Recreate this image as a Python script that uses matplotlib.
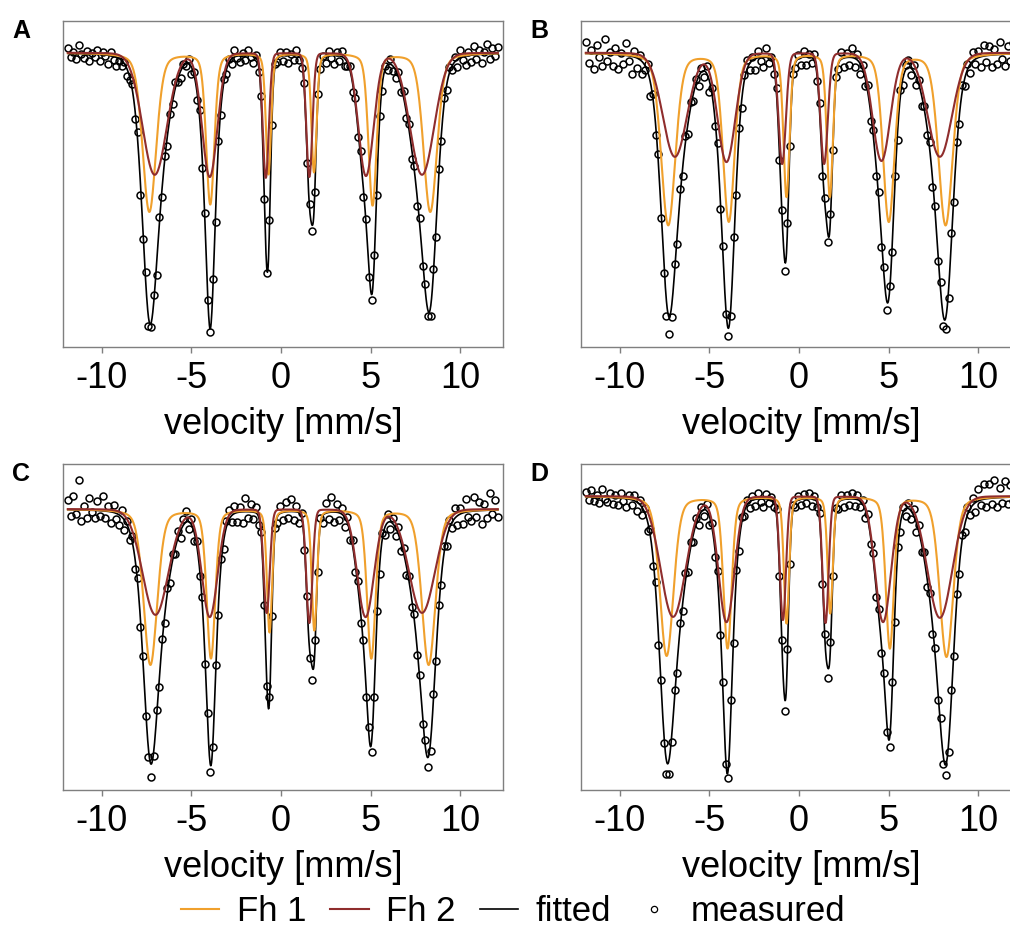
import numpy as np
import matplotlib
matplotlib.use("Agg")
import matplotlib.pyplot as plt
from matplotlib.lines import Line2D

plt.rcParams['font.family'] = ['Liberation Sans', 'DejaVu Sans']
plt.rcParams['axes.unicode_minus'] = False

# sextet lines of the two ferrihydrite components:
# position [mm/s], depth [a.u.] and half width [mm/s] of lines 1..6
fh1_pos_A = [-7.35, -3.95, -0.70, 1.84, 5.11, 8.33]
fh1_dep_A = [159, 151, 121, 119, 152, 159]
fh1_wid_A = [0.45, 0.27, 0.17, 0.17, 0.27, 0.45]
fh2_pos_A = [-7.05, -3.98, -0.85, 1.58, 4.74, 7.87]
fh2_dep_A = [122, 124, 125, 124, 123, 122]
fh2_wid_A = [0.80, 0.50, 0.20, 0.20, 0.50, 0.80]

fh1_pos_B = [-7.30, -3.92, -0.70, 1.72, 5.01, 8.18]
fh1_dep_B = [172, 168, 143, 143, 168, 172]
fh1_wid_B = [0.47, 0.38, 0.20, 0.20, 0.38, 0.47]
fh2_pos_B = [-6.93, -4.05, -0.94, 1.40, 4.60, 7.86]
fh2_dep_B = [104, 109, 111, 111, 108, 104]
fh2_wid_B = [0.80, 0.58, 0.24, 0.24, 0.58, 0.80]

fh1_pos_C = [-7.29, -3.91, -0.64, 1.86, 5.04, 8.24]
fh1_dep_C = [156, 149, 123, 121, 149, 156]
fh1_wid_C = [0.45, 0.28, 0.17, 0.17, 0.28, 0.45]
fh2_pos_C = [-7.01, -3.98, -0.80, 1.58, 4.72, 7.87]
fh2_dep_C = [106, 108, 104, 114, 108, 104]
fh2_wid_C = [0.85, 0.52, 0.20, 0.20, 0.55, 0.85]

fh1_pos_D = [-7.39, -3.99, -0.70, 1.74, 5.07, 8.23]
fh1_dep_D = [160, 152, 127, 117, 152, 161]
fh1_wid_D = [0.45, 0.27, 0.17, 0.17, 0.27, 0.45]
fh2_pos_D = [-7.03, -4.05, -0.90, 1.48, 4.69, 7.86]
fh2_dep_D = [121, 126, 124, 127, 126, 122]
fh2_wid_D = [0.82, 0.52, 0.20, 0.20, 0.52, 0.82]

# measured absorption [a.u.] at the channel velocities
vel = np.round(np.linspace(-11.9, 12.1, 161), 2)
meas_A = [-5, 4, -1, 6, -8, 1, 5, -2, 8, 0,
          4, -3, 8, -1, 3, 11, -1, 7, 13, 8,
          13, 9, 23, 27, 31, 66, 79, 142, 186, 219,
          273, 274, 242, 222, 164, 144, 103, 93, 61, 51,
          29, 29, 25, 11, 13, 6, 21, 19, 47, 57,
          115, 160, 247, 279, 226, 169, 88, 62, 26, 21,
          6, 11, -3, 5, 9, 0, 7, -3, 4, 10,
          2, 19, 43, 146, 220, 167, 72, 11, 9, -1,
          8, -1, 10, 1, 7, -3, 7, 15, 30, 110,
          151, 178, 139, 41, 16, 3, 10, -2, 5, 11,
          -1, 8, -2, 13, 13, 13, 39, 45, 84, 98,
          144, 166, 224, 247, 202, 142, 63, 38, 13, 17,
          6, 18, 25, 19, 39, 38, 65, 71, 106, 113,
          153, 165, 213, 231, 263, 263, 216, 184, 116, 88,
          45, 37, 14, 17, 4, 14, -3, 7, 12, -1,
          9, -7, 6, -3, 10, -1, -9, 6, -5, 3, -6]
meas_B = [-11, 10, -3, 16, -8, 4, 13, -14, 8, -1,
          13, -5, 16, 0, 11, -10, 8, 21, -2, 15,
          2, 21, 17, 11, 43, 41, 82, 101, 165, 220,
          263, 281, 264, 211, 191, 136, 123, 83, 81, 49,
          48, 26, 33, 15, 24, 13, 39, 35, 73, 90,
          156, 193, 261, 283, 263, 184, 142, 75, 55, 22,
          7, 17, 4, 17, -2, 8, 14, -5, 10, 4,
          21, 35, 107, 157, 218, 170, 93, 21, 15, 2,
          12, -2, 12, 1, 10, 1, 28, 50, 123, 145,
          189, 161, 97, 24, 16, -1, 14, 0, 12, -5,
          14, 1, 21, 12, 33, 32, 68, 77, 123, 139,
          194, 214, 257, 233, 199, 123, 87, 37, 32, 12,
          7, 22, 12, 32, 27, 53, 53, 82, 89, 134,
          153, 208, 229, 273, 276, 245, 180, 149, 89, 71,
          32, 33, 11, 20, -1, 11, -2, 14, -8, 9,
          -7, 14, -4, 11, -11, 6, 13, -7, 8, -10, 6]
meas_C = [-9, 7, -13, 5, -29, 12, -3, 9, -11, 3,
          9, -8, 7, -13, 9, -3, 14, -4, 10, 16,
          1, 21, 12, 31, 27, 60, 69, 118, 147, 208,
          249, 269, 248, 202, 178, 130, 114, 79, 74, 45,
          45, 22, 29, 10, 2, 20, 10, 32, 32, 67,
          88, 155, 205, 264, 239, 156, 106, 50, 40, 12,
          1, 13, -3, 13, -2, 14, -11, 9, -5, 10,
          -2, 16, 23, 96, 177, 188, 107, 19, 14, -3,
          11, -7, 9, -10, 11, -3, 14, 4, 41, 87,
          149, 171, 131, 63, 9, 14, -6, 10, -12, 13,
          -5, 11, -1, 18, 8, 31, 31, 63, 72, 114,
          131, 188, 219, 244, 188, 102, 65, 24, 26, 5,
          20, 9, 27, 18, 42, 39, 66, 67, 98, 105,
          146, 166, 216, 232, 259, 243, 185, 152, 96, 76,
          37, 37, 11, 19, -1, 16, -1, 15, -10, 8,
          12, -12, 8, -7, 15, -5, 9, -16, 5, -9, 8]
meas_D = [-4, 4, -6, 5, -1, 7, -7, 3, 6, -3,
          8, -1, 9, -3, 5, 11, -1, 9, -1, 15,
          4, 19, 12, 35, 33, 70, 86, 149, 184, 248,
          279, 279, 247, 194, 177, 127, 115, 77, 76, 46,
          46, 22, 29, 11, 20, 8, 29, 27, 61, 75,
          139, 186, 269, 283, 205, 147, 74, 55, 21, 20,
          4, 12, 0, 10, -3, 6, 11, -2, 7, 1,
          11, 13, 80, 144, 216, 153, 68, 9, 11, 0,
          9, -2, 7, -3, 10, 0, 11, 17, 88, 138,
          182, 146, 80, 12, 13, -1, 11, -1, 9, -3,
          10, -1, 11, 4, 22, 18, 48, 57, 101, 113,
          157, 177, 237, 252, 186, 126, 51, 36, 11, 20,
          7, 23, 13, 36, 29, 56, 56, 91, 97, 138,
          152, 205, 223, 269, 280, 257, 194, 160, 98, 78,
          39, 36, 11, 19, 2, 16, -7, 9, -12, 11,
          -12, 8, -16, 11, -8, 7, -15, 8, -11, 5, -8]

y_top = {'A': 31.6, 'B': 31.6, 'C': 45.0, 'D': 32.0}
y_bot = {'A': -294.4, 'B': -294.4, 'C': -281.7, 'D': -294.7}

ETA1 = 0.30  # lorentzian share of the line shape
ETA2 = 0.05


def sextet(v, pos, dep, wid, eta):
    out = np.zeros_like(v)
    for p, d, w in zip(pos, dep, wid):
        u = (v - p) / w
        out += d * (eta / (1 + u ** 2) + (1 - eta) * np.exp(-np.log(2) * u ** 2))
    return out


panels = {
    'A': (fh1_pos_A, fh1_dep_A, fh1_wid_A, fh2_pos_A, fh2_dep_A, fh2_wid_A, meas_A),
    'B': (fh1_pos_B, fh1_dep_B, fh1_wid_B, fh2_pos_B, fh2_dep_B, fh2_wid_B, meas_B),
    'C': (fh1_pos_C, fh1_dep_C, fh1_wid_C, fh2_pos_C, fh2_dep_C, fh2_wid_C, meas_C),
    'D': (fh1_pos_D, fh1_dep_D, fh1_wid_D, fh2_pos_D, fh2_dep_D, fh2_wid_D, meas_D),
}

ORANGE = '#F0A02C'
BROWN = '#8F2D2D'
GREY = '#7F7F7F'

fig = plt.figure(figsize=(10.10, 9.32), dpi=100)
W, H = 1010, 932
# panel corners in pixels (right column runs past the image edge, as in the original)
boxes = {'A': (63, 21), 'B': (581, 21), 'C': (63, 464), 'D': (581, 464)}

v = np.linspace(-11.9, 12.1, 1201)
for key, (p1, d1, w1, p2, d2, w2, meas) in panels.items():
    x0, y0 = boxes[key]
    ax = fig.add_axes([x0 / W, 1 - (y0 + 326) / H, 440 / W, 326 / H])
    s1 = sextet(v, p1, d1, w1, ETA1)
    s2 = sextet(v, p2, d2, w2, ETA2)
    ax.plot(vel, -np.array(meas), 'o', ms=5, mfc='none', mec='black', mew=1.1, zorder=1)
    ax.plot(v, -(s1 + s2), color='black', lw=1.2, zorder=2)
    ax.plot(v, -s1, color=ORANGE, lw=1.5, zorder=3)
    ax.plot(v, -s2, color=BROWN, lw=1.5, zorder=4)
    ax.set_xlim(-12.17, 12.39)
    ax.set_ylim(y_bot[key], y_top[key])
    ax.set_yticks([])
    ax.set_xticks([-10, -5, 0, 5, 10])
    ax.set_xticklabels(['-10', '-5', '0', '5', '10'])
    ax.tick_params(axis='x', length=4.5, width=1.0, color=GREY, labelsize=26, pad=5.5)
    for sp in ax.spines.values():
        sp.set_color(GREY)
        sp.set_linewidth(1.0)
    ax.set_xlabel('velocity [mm/s]', fontsize=26, labelpad=8)
    fig.text((x0 - 51) / W, 1 - (y0 + 17) / H, key, fontsize=18, fontweight='bold')

handles = [
    Line2D([], [], color=ORANGE, lw=1.5),
    Line2D([], [], color=BROWN, lw=1.5),
    Line2D([], [], color='black', lw=1.2),
    Line2D([], [], ls='none', marker='o', ms=4.5, mfc='none', mec='black', mew=0.9),
]
fig.legend(handles, ['Fh 1', 'Fh 2', 'fitted', 'measured'], loc='center',
           bbox_to_anchor=(0.508, 0.022), ncol=4, frameon=False, fontsize=25,
           handlelength=1.1, handletextpad=0.5, columnspacing=0.7)

fig.savefig('out.png', dpi=100)
